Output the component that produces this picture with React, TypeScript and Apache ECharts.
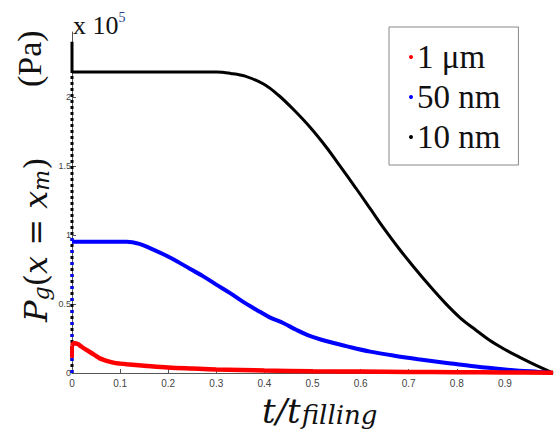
import React, { useEffect, useRef } from "react";
import * as echarts from "echarts";

const seriesNames = ["1 \u03bcm", "50 nm", "10 nm"];
const seriesColors = ["#ff0000", "#0000ff", "#000000"];

const redT = [0, 0.004, 0.012, 0.02, 0.03, 0.045, 0.058, 0.072, 0.086, 0.1, 0.114, 0.15, 0.2, 0.25, 0.3, 0.4, 0.5, 0.6, 0.7, 0.8, 0.9, 1.0];
const redP = [0.2, 0.215, 0.21, 0.19, 0.167, 0.135, 0.106, 0.088, 0.075, 0.068, 0.063, 0.053, 0.04, 0.032, 0.025, 0.018, 0.013, 0.01, 0.008, 0.006, 0.004, 0.002];

const blueT = [0, 0.114, 0.14, 0.162, 0.19, 0.218, 0.245, 0.273, 0.3, 0.328, 0.356, 0.384, 0.41, 0.44, 0.465, 0.49, 0.53, 0.57, 0.62, 0.67, 0.72, 0.775, 0.83, 0.88, 0.93, 0.97, 1.0];
const blueP = [0.95, 0.95, 0.935, 0.905, 0.86, 0.81, 0.755, 0.7, 0.64, 0.58, 0.515, 0.457, 0.405, 0.36, 0.315, 0.275, 0.23, 0.195, 0.155, 0.125, 0.1, 0.075, 0.05, 0.032, 0.017, 0.008, 0.0];

const blackT = [0, 0.1, 0.2, 0.3, 0.33, 0.36, 0.4, 0.43, 0.46, 0.495, 0.53, 0.557, 0.59, 0.62, 0.65, 0.68, 0.71, 0.744, 0.775, 0.807, 0.84, 0.869, 0.9, 0.93, 0.965, 1.0];
const blackP = [2.18, 2.18, 2.18, 2.18, 2.17, 2.15, 2.09, 2.01, 1.91, 1.78, 1.63, 1.5, 1.34, 1.19, 1.04, 0.9, 0.77, 0.63, 0.51, 0.4, 0.31, 0.235, 0.17, 0.115, 0.055, 0];

// start-up rise at t = 0
const riseT = [0, 0];
const redRiseP = [0.11, 0.2];
const blueRiseP = [0, 0.99];
const blackRiseP = [0, 2.18];
const blackSpikeP = [2.18, 2.4];

const xTicks = [0, 0.1, 0.2, 0.3, 0.4, 0.5, 0.6, 0.7, 0.8, 0.9];

const zip = (t: number[], p: number[]) => t.map((v, i) => [v, p[i]]);

export default function App() {
  const ref = useRef<HTMLDivElement>(null);
  useEffect(() => {
    if (!ref.current) return;
    const chart = echarts.init(ref.current, null, { renderer: "svg" });
    const mathFont = "DejaVu Serif";
    const line = (name: string, color: string, data: number[][], width: number, z: number, extra: any = {}) => ({
      name,
      type: "line",
      data,
      showSymbol: false,
      lineStyle: { color, width, ...(extra.lineStyle || {}) },
      itemStyle: { color },
      smooth: extra.smooth ?? false,
      z,
    });
    chart.setOption({
      animation: false,
      backgroundColor: "#ffffff",
      grid: { left: 72, right: 3, top: 32, bottom: 59 },
      xAxis: {
        type: "value",
        min: 0,
        max: 1,
        interval: 0.1,
        axisLine: { show: true, lineStyle: { color: "#555", width: 1 } },
        axisTick: { show: true, inside: true, length: 4, lineStyle: { color: "#555" } },
        splitLine: { show: false },
        axisLabel: {
          show: true,
          color: "#444",
          fontSize: 10,
          fontFamily: "Liberation Sans",
          margin: 5,
          showMaxLabel: false,
          formatter: (v: number) => (xTicks.some((t) => Math.abs(t - v) < 1e-6) ? String(Math.round(v * 10) / 10) : ""),
        },
      },
      yAxis: {
        type: "value",
        min: 0,
        max: 2.47,
        interval: 0.5,
        axisLine: { show: true, lineStyle: { color: "#555", width: 1 } },
        axisTick: { show: true, inside: true, length: 4, lineStyle: { color: "#555" } },
        splitLine: { show: false },
        axisLabel: {
          show: true,
          color: "#444",
          fontSize: 9,
          fontFamily: "Liberation Sans",
          margin: 1,
          showMaxLabel: false,
        },
      },
      legend: {
        show: true,
        orient: "vertical",
        left: 389,
        top: 27,
        data: seriesNames,
        icon: "circle",
        itemWidth: 4,
        itemHeight: 4,
        itemGap: 0,
        padding: [10, 18, 8, 20],
        borderColor: "#888",
        borderWidth: 1,
        backgroundColor: "#fff",
        selectedMode: false,
        textStyle: {
          fontFamily: "Liberation Serif",
          fontSize: 33,
          color: "#111",
          lineHeight: 40,
          padding: [0, 0, 0, -1],
        },
      },
      series: [
        line(seriesNames[0], seriesColors[0], zip(redT, redP), 4.5, 4, { smooth: 0.35 }),
        line(seriesNames[1], seriesColors[1], zip(blueT, blueP), 4, 3, { smooth: 0.35 }),
        line(seriesNames[2], seriesColors[2], zip(blackT, blackP), 3, 2, { smooth: 0.35 }),
        line(seriesNames[2], seriesColors[2], zip(riseT, blackRiseP), 3, 2, { lineStyle: { type: [3, 3] } }),
        line(seriesNames[2], seriesColors[2], zip(riseT, blackSpikeP), 3, 2),
        line(seriesNames[1], seriesColors[1], zip(riseT, blueRiseP), 3, 3, { lineStyle: { type: [3, 9] } }),
        line(seriesNames[0], seriesColors[0], zip(riseT, redRiseP), 4, 4),
      ],
      graphic: [
        {
          type: "text",
          left: 73,
          top: 10,
          style: {
            text: "{a|x 10}{s|5}",
            rich: {
              a: { fontFamily: "Liberation Serif", fontSize: 26, fill: "#111", lineHeight: 28, verticalAlign: "bottom" },
              s: { fontFamily: "Liberation Serif", fontSize: 14, fill: "#2a3f8a", lineHeight: 28, verticalAlign: "top", padding: [0, 0, 10, 0] },
            },
          },
        },
        {
          type: "text",
          x: 262,
          y: 388,
          style: {
            text: "{m|t/t}{s|filling}",
            rich: {
              m: { fontFamily: mathFont, fontStyle: "italic", fontSize: 34, fill: "#111", lineHeight: 40, verticalAlign: "bottom" },
              s: { fontFamily: mathFont, fontStyle: "italic", fontSize: 26, fill: "#111", lineHeight: 26, verticalAlign: "bottom", padding: [0, 0, 0, 1] },
            },
          },
        },
        {
          type: "text",
          x: 12,
          y: 322,
          rotation: Math.PI / 2,
          style: {
            text: "{m|P}{s|g}{n|(}{m|x}{n| = }{m|x}{s|m}{n|)}",
            rich: {
              m: { fontFamily: mathFont, fontStyle: "italic", fontSize: 32, fill: "#111", lineHeight: 40, verticalAlign: "bottom" },
              n: { fontFamily: mathFont, fontSize: 32, fill: "#111", lineHeight: 40, verticalAlign: "bottom" },
              s: { fontFamily: mathFont, fontStyle: "italic", fontSize: 22, fill: "#111", lineHeight: 20, verticalAlign: "bottom" },
            },
          },
        },
        {
          type: "text",
          x: 29,
          y: 87,
          rotation: Math.PI / 2,
          style: {
            text: "(Pa)",
            font: "34px 'Liberation Serif'",
            fill: "#111",
            align: "left",
            verticalAlign: "middle",
          },
        },
      ],
    });
    return () => chart.dispose();
  }, []);
  return <div ref={ref} style={{ width: 556, height: 432, position: "absolute", left: 0, top: 0 }} />;
}
